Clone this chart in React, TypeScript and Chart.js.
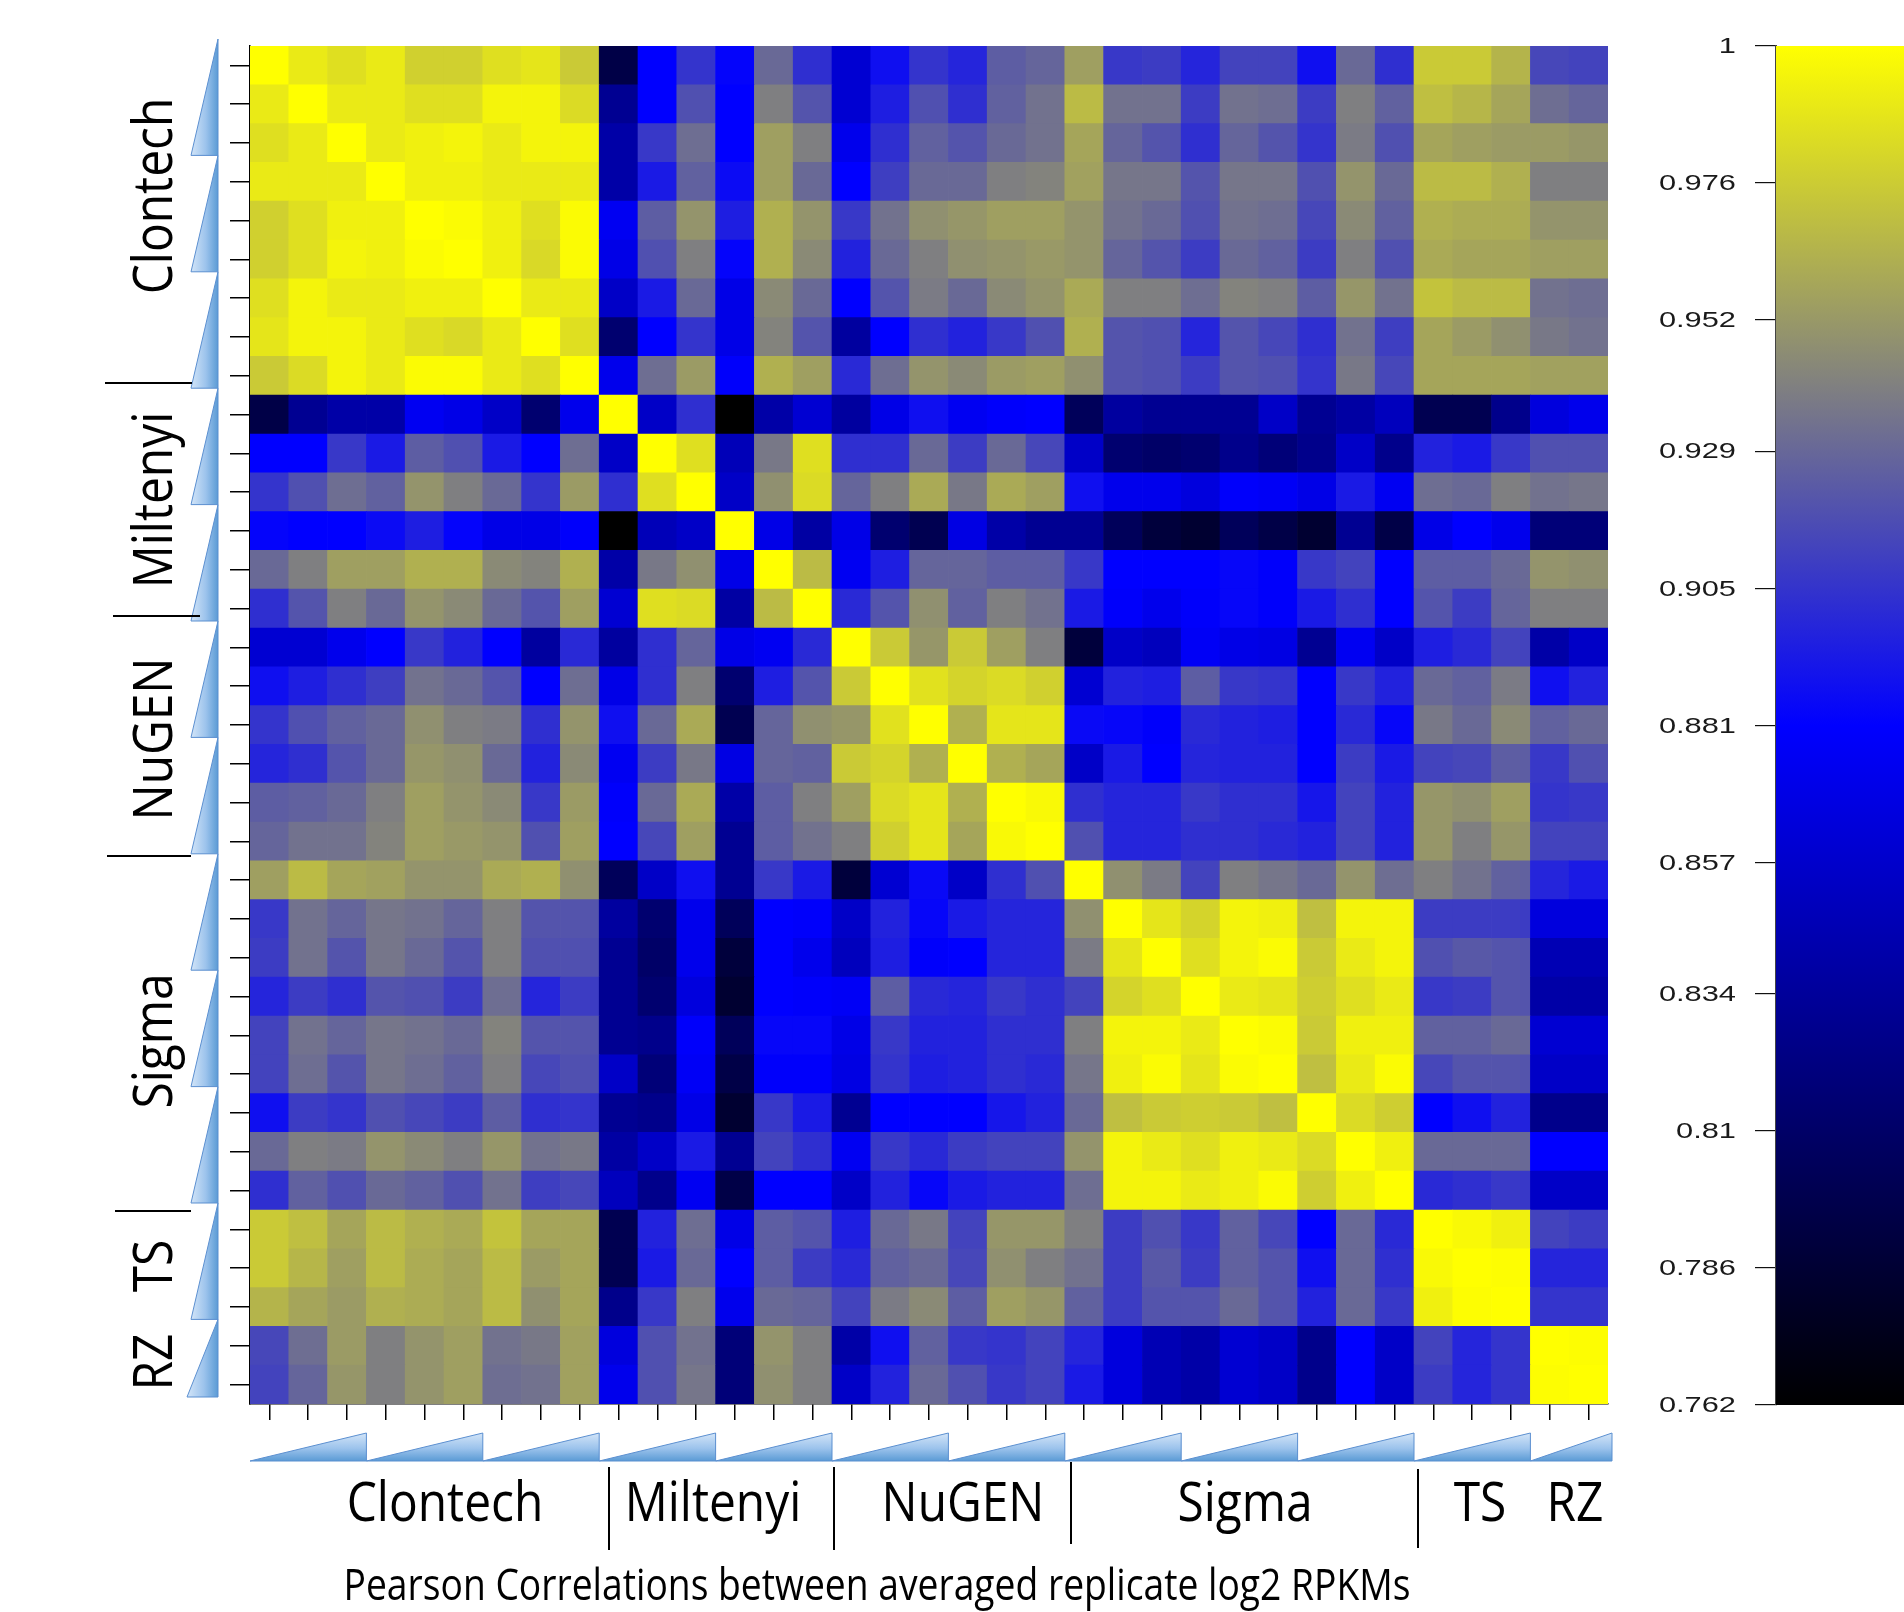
import React, { useEffect, useRef } from 'react';
import { Chart, registerables } from 'chart.js';

Chart.register(...registerables);

// ---------------- DATA ----------------
const GROUP_NAMES = ['Clontech', 'Miltenyi', 'NuGEN', 'Sigma', 'TS', 'RZ'];
const GROUP_SIZES = [9, 6, 6, 9, 3, 2];
const SAMPLE_LABELS: string[] = GROUP_NAMES.flatMap((g, i) =>
  Array.from({ length: GROUP_SIZES[i] }, (_, k) => `${g} ${k + 1}`)
);

// Upper triangle of the (symmetric) Pearson correlation matrix.
// ROW_ii holds the values of row i for columns i+1 .. 34.
const ROW_00 = [0.99, 0.985, 0.99, 0.978, 0.978, 0.985, 0.988, 0.975, 0.795, 0.881, 0.905, 0.883, 0.93, 0.903, 0.86, 0.888, 0.905, 0.898, 0.924, 0.928, 0.955, 0.907, 0.909, 0.898, 0.912, 0.912, 0.888, 0.93, 0.903, 0.975, 0.975, 0.965, 0.914, 0.912];
const ROW_01 = [0.99, 0.99, 0.985, 0.985, 0.995, 0.995, 0.983, 0.83, 0.881, 0.918, 0.881, 0.94, 0.92, 0.86, 0.895, 0.918, 0.903, 0.926, 0.934, 0.968, 0.934, 0.934, 0.909, 0.934, 0.932, 0.909, 0.94, 0.926, 0.97, 0.966, 0.958, 0.932, 0.928];
const ROW_02 = [0.99, 0.993, 0.995, 0.99, 0.995, 0.995, 0.84, 0.907, 0.932, 0.881, 0.955, 0.94, 0.872, 0.903, 0.926, 0.92, 0.93, 0.934, 0.958, 0.928, 0.92, 0.903, 0.928, 0.92, 0.905, 0.938, 0.918, 0.958, 0.955, 0.953, 0.953, 0.951];
const ROW_03 = [0.993, 0.993, 0.99, 0.99, 0.99, 0.84, 0.893, 0.926, 0.886, 0.955, 0.93, 0.881, 0.91, 0.93, 0.93, 0.94, 0.942, 0.956, 0.936, 0.936, 0.92, 0.936, 0.936, 0.918, 0.95, 0.93, 0.968, 0.968, 0.963, 0.94, 0.94];
const ROW_04 = [0.998, 0.993, 0.985, 0.998, 0.875, 0.924, 0.95, 0.895, 0.963, 0.95, 0.907, 0.934, 0.948, 0.951, 0.955, 0.955, 0.95, 0.934, 0.93, 0.918, 0.934, 0.932, 0.914, 0.945, 0.926, 0.963, 0.961, 0.961, 0.95, 0.95];
const ROW_05 = [0.993, 0.982, 0.998, 0.87, 0.918, 0.94, 0.883, 0.963, 0.945, 0.897, 0.93, 0.94, 0.948, 0.95, 0.952, 0.95, 0.928, 0.92, 0.909, 0.93, 0.926, 0.909, 0.94, 0.918, 0.96, 0.958, 0.958, 0.955, 0.955];
const ROW_06 = [0.99, 0.99, 0.855, 0.893, 0.93, 0.87, 0.945, 0.93, 0.881, 0.92, 0.938, 0.93, 0.945, 0.95, 0.96, 0.94, 0.94, 0.932, 0.942, 0.94, 0.924, 0.951, 0.934, 0.972, 0.968, 0.968, 0.934, 0.932];
const ROW_07 = [0.985, 0.814, 0.881, 0.905, 0.87, 0.942, 0.92, 0.836, 0.881, 0.903, 0.897, 0.907, 0.918, 0.963, 0.92, 0.918, 0.898, 0.92, 0.914, 0.903, 0.934, 0.91, 0.958, 0.953, 0.948, 0.937, 0.934];
const ROW_08 = [0.872, 0.932, 0.953, 0.879, 0.963, 0.955, 0.9, 0.932, 0.95, 0.945, 0.953, 0.955, 0.948, 0.92, 0.918, 0.909, 0.92, 0.918, 0.905, 0.937, 0.914, 0.958, 0.958, 0.958, 0.956, 0.956];
const ROW_09 = [0.855, 0.903, 0.762, 0.84, 0.86, 0.836, 0.87, 0.888, 0.875, 0.879, 0.881, 0.804, 0.836, 0.83, 0.83, 0.83, 0.855, 0.83, 0.838, 0.85, 0.8, 0.8, 0.827, 0.865, 0.872];
const ROW_10 = [0.985, 0.848, 0.937, 0.985, 0.903, 0.903, 0.93, 0.909, 0.93, 0.914, 0.855, 0.814, 0.81, 0.814, 0.827, 0.818, 0.827, 0.855, 0.827, 0.897, 0.893, 0.907, 0.918, 0.918];
const ROW_11 = [0.855, 0.948, 0.983, 0.928, 0.94, 0.96, 0.937, 0.96, 0.955, 0.888, 0.872, 0.872, 0.865, 0.879, 0.877, 0.87, 0.893, 0.875, 0.932, 0.93, 0.94, 0.934, 0.936];
const ROW_12 = [0.87, 0.838, 0.87, 0.814, 0.8, 0.868, 0.84, 0.83, 0.83, 0.804, 0.79, 0.785, 0.804, 0.795, 0.785, 0.83, 0.795, 0.87, 0.881, 0.872, 0.818, 0.818];
const ROW_13 = [0.968, 0.875, 0.895, 0.928, 0.928, 0.924, 0.924, 0.907, 0.881, 0.881, 0.881, 0.884, 0.879, 0.907, 0.912, 0.881, 0.924, 0.924, 0.93, 0.95, 0.948];
const ROW_14 = [0.9, 0.92, 0.948, 0.926, 0.94, 0.934, 0.893, 0.879, 0.872, 0.879, 0.884, 0.879, 0.893, 0.903, 0.881, 0.92, 0.909, 0.928, 0.94, 0.94];
const ROW_15 = [0.975, 0.951, 0.975, 0.955, 0.94, 0.79, 0.855, 0.85, 0.877, 0.87, 0.868, 0.83, 0.875, 0.855, 0.895, 0.9, 0.912, 0.84, 0.855];
const ROW_16 = [0.986, 0.98, 0.983, 0.978, 0.86, 0.897, 0.895, 0.924, 0.907, 0.905, 0.881, 0.907, 0.897, 0.93, 0.926, 0.938, 0.888, 0.897];
const ROW_17 = [0.963, 0.988, 0.988, 0.885, 0.884, 0.879, 0.9, 0.897, 0.895, 0.881, 0.9, 0.884, 0.937, 0.93, 0.945, 0.926, 0.93];
const ROW_18 = [0.963, 0.958, 0.855, 0.893, 0.881, 0.898, 0.897, 0.897, 0.881, 0.909, 0.893, 0.912, 0.914, 0.924, 0.907, 0.918];
const ROW_19 = [0.997, 0.903, 0.898, 0.898, 0.907, 0.903, 0.903, 0.891, 0.912, 0.897, 0.951, 0.948, 0.955, 0.905, 0.907];
const ROW_20 = [0.918, 0.898, 0.898, 0.903, 0.903, 0.9, 0.897, 0.912, 0.897, 0.951, 0.94, 0.951, 0.912, 0.912];
const ROW_21 = [0.948, 0.938, 0.912, 0.94, 0.936, 0.93, 0.95, 0.932, 0.94, 0.934, 0.926, 0.898, 0.893];
const ROW_22 = [0.988, 0.98, 0.995, 0.993, 0.97, 0.995, 0.995, 0.909, 0.909, 0.909, 0.865, 0.865];
const ROW_23 = [0.985, 0.995, 0.998, 0.975, 0.99, 0.995, 0.918, 0.922, 0.92, 0.846, 0.846];
const ROW_24 = [0.99, 0.988, 0.977, 0.985, 0.99, 0.907, 0.909, 0.92, 0.84, 0.84];
const ROW_25 = [0.998, 0.975, 0.993, 0.993, 0.926, 0.926, 0.93, 0.86, 0.86];
const ROW_26 = [0.97, 0.99, 0.998, 0.914, 0.92, 0.92, 0.855, 0.855];
const ROW_27 = [0.983, 0.977, 0.881, 0.888, 0.897, 0.827, 0.827];
const ROW_28 = [0.993, 0.93, 0.93, 0.93, 0.881, 0.881];
const ROW_29 = [0.9, 0.903, 0.907, 0.855, 0.855];
const ROW_30 = [0.997, 0.993, 0.912, 0.909];
const ROW_31 = [0.999, 0.898, 0.898];
const ROW_32 = [0.905, 0.905];
const ROW_33 = [0.999];

const UPPER_ROWS = [
  ROW_00, ROW_01, ROW_02, ROW_03, ROW_04, ROW_05, ROW_06, ROW_07, ROW_08, ROW_09,
  ROW_10, ROW_11, ROW_12, ROW_13, ROW_14, ROW_15, ROW_16, ROW_17, ROW_18, ROW_19,
  ROW_20, ROW_21, ROW_22, ROW_23, ROW_24, ROW_25, ROW_26, ROW_27, ROW_28, ROW_29,
  ROW_30, ROW_31, ROW_32, ROW_33,
];

// Colour key
const CB_MIN = 0.762;
const CB_MAX = 1;
const CB_TICK_LABELS = ['1', '0.976', '0.952', '0.929', '0.905', '0.881', '0.857', '0.834', '0.81', '0.786', '0.762'];
const COLOR_STOP_VALUES = [0.762, 0.881, 0.9405, 1];
const COLOR_STOP_RGB = [
  [0, 0, 0],
  [0, 0, 255],
  [128, 128, 128],
  [255, 255, 0],
];

const CAPTION = 'Pearson Correlations between averaged replicate log2 RPKMs';

// ---------------- HELPERS ----------------
const N = SAMPLE_LABELS.length;

function buildMatrix(): number[][] {
  const m = Array.from({ length: N }, (_, i) => Array.from({ length: N }, (_, j) => (i === j ? 1 : 0)));
  UPPER_ROWS.forEach((row, i) => {
    row.forEach((v, k) => {
      const j = i + 1 + k;
      m[i][j] = v;
      m[j][i] = v;
    });
  });
  return m;
}

function rgb(c: number[]) {
  return `rgb(${Math.round(c[0])},${Math.round(c[1])},${Math.round(c[2])})`;
}

function colorFor(v: number): string {
  const s = COLOR_STOP_VALUES;
  let i = 0;
  while (i < s.length - 2 && v > s[i + 1]) i++;
  const t = Math.max(0, Math.min(1, (v - s[i]) / (s[i + 1] - s[i])));
  const a = COLOR_STOP_RGB[i];
  const b = COLOR_STOP_RGB[i + 1];
  return rgb([a[0] + (b[0] - a[0]) * t, a[1] + (b[1] - a[1]) * t, a[2] + (b[2] - a[2]) * t]);
}

const LABEL_FONT = '55px "Open Sans", "Noto Sans", sans-serif';
const LABEL_SX = 0.87;

function drawText(
  ctx: CanvasRenderingContext2D,
  text: string,
  x: number,
  y: number,
  font: string,
  sx: number,
  align: CanvasTextAlign,
  rotate = false,
  baseline: CanvasTextBaseline = 'alphabetic',
  color = '#000'
) {
  ctx.save();
  ctx.translate(x, y);
  if (rotate) ctx.rotate(-Math.PI / 2);
  ctx.scale(sx, 1);
  ctx.font = font;
  ctx.textAlign = align;
  ctx.textBaseline = baseline;
  ctx.fillStyle = color;
  ctx.fillText(text, 0, 0);
  ctx.restore();
}

// layout of the slide annotations (label centres, separator lines)
const LEFT_LABEL_BASELINE_X = 172;
const LEFT_LABEL_CENTERS = [196, 500, 739, 1041, 1266, 1362];
const BOTTOM_LABEL_BASELINE_Y = 1521;
const BOTTOM_LABEL_CENTERS = [445, 713, 963, 1245, 1480, 1575];
const LEFT_SEPARATORS = [
  { y: 383, x1: 105, x2: 192 },
  { y: 616, x1: 113, x2: 200 },
  { y: 856, x1: 107, x2: 191 },
  { y: 1211, x1: 115, x2: 191 },
];
const BOTTOM_SEPARATORS = [
  { x: 609, y1: 1467, y2: 1550 },
  { x: 834, y1: 1467, y2: 1550 },
  { x: 1071, y1: 1462, y2: 1544 },
  { x: 1418, y1: 1469, y2: 1548 },
];

const decorPlugin = {
  id: 'decor',
  afterDraw(chart: any) {
    const ctx: CanvasRenderingContext2D = chart.ctx;
    const area = chart.chartArea;
    const xs = chart.scales.x;
    const ys = chart.scales.y;
    const cellW = (area.right - area.left) / N;
    const nW = Math.ceil(N / 3);

    // left wedges
    for (let k = 0; k < nW; k++) {
      const r0 = 3 * k;
      const r1 = Math.min(3 * k + 3, N);
      const top = ys.getPixelForValue(N - r0) - 7;
      const bot = ys.getPixelForValue(N - r1) - 7;
      const xr = area.left - 32;
      const xl = area.left - 59 - (r1 - r0 < 3 ? 4 : 0);
      const g = ctx.createLinearGradient(xl, 0, xr, 0);
      g.addColorStop(0, '#d3e5f8');
      g.addColorStop(0.55, '#9cc3ec');
      g.addColorStop(1, '#5b9bd5');
      ctx.beginPath();
      ctx.moveTo(xr, top);
      ctx.lineTo(xr, bot);
      ctx.lineTo(xl, bot);
      ctx.closePath();
      ctx.fillStyle = g;
      ctx.fill();
      ctx.strokeStyle = '#5b8fd0';
      ctx.lineWidth = 1;
      ctx.stroke();
    }

    // bottom wedges
    const yt = area.bottom + 29;
    const yb = area.bottom + 57;
    for (let k = 0; k < nW; k++) {
      const c0 = 3 * k;
      const c1 = Math.min(3 * k + 2, N - 1);
      const x0 = xs.getPixelForValue(c0) - cellW / 2;
      const x1 = xs.getPixelForValue(c1) + cellW / 2 + (c1 - c0 < 2 ? 4 : 0);
      const g = ctx.createLinearGradient(0, yt, 0, yb);
      g.addColorStop(0, '#d3e5f8');
      g.addColorStop(0.55, '#9cc3ec');
      g.addColorStop(1, '#5b9bd5');
      ctx.beginPath();
      ctx.moveTo(x0, yb);
      ctx.lineTo(x1, yb);
      ctx.lineTo(x1, yt);
      ctx.closePath();
      ctx.fillStyle = g;
      ctx.fill();
      ctx.strokeStyle = '#5b8fd0';
      ctx.lineWidth = 1;
      ctx.stroke();
    }

    // separators
    ctx.save();
    ctx.strokeStyle = '#000';
    ctx.lineWidth = 2;
    LEFT_SEPARATORS.forEach((s) => {
      ctx.beginPath();
      ctx.moveTo(s.x1, s.y);
      ctx.lineTo(s.x2, s.y);
      ctx.stroke();
    });
    BOTTOM_SEPARATORS.forEach((s) => {
      ctx.beginPath();
      ctx.moveTo(s.x, s.y1);
      ctx.lineTo(s.x, s.y2);
      ctx.stroke();
    });
    ctx.restore();

    // group labels
    GROUP_NAMES.forEach((name, i) => {
      drawText(ctx, name, LEFT_LABEL_BASELINE_X, LEFT_LABEL_CENTERS[i], LABEL_FONT, LABEL_SX, 'center', true);
      drawText(ctx, name, BOTTOM_LABEL_CENTERS[i], BOTTOM_LABEL_BASELINE_Y, LABEL_FONT, LABEL_SX, 'center');
    });

    // caption
    const capFont = '43px "Open Sans", "Noto Sans", sans-serif';
    ctx.save();
    ctx.font = capFont;
    const w = ctx.measureText(CAPTION).width;
    ctx.restore();
    const sx = w > 0 ? 1067 / w : 1;
    drawText(ctx, CAPTION, 877, 1600, capFont, sx, 'center');
  },
};

function mainConfig(): any {
  const matrix = buildMatrix();
  const datasets = [];
  for (let k = 0; k < N; k++) {
    const row = N - 1 - k; // stacked bottom-up: last sample row first
    datasets.push({
      label: SAMPLE_LABELS[row],
      data: SAMPLE_LABELS.map(() => 1),
      backgroundColor: matrix[row].map(colorFor),
      borderWidth: 0,
      barPercentage: 1,
      categoryPercentage: 1,
      stack: 'rows',
    });
  }
  return {
    type: 'bar',
    data: { labels: SAMPLE_LABELS, datasets },
    options: {
      responsive: false,
      animation: false,
      devicePixelRatio: 1,
      events: [],
      layout: { padding: { left: 230, right: 296, top: 46, bottom: 192 } },
      plugins: { legend: { display: false }, tooltip: { enabled: false }, title: { display: false } },
      scales: {
        x: {
          type: 'category',
          stacked: true,
          offset: true,
          ticks: { display: false },
          grid: { display: true, offset: false, drawOnChartArea: false, drawTicks: true, tickLength: 16, color: '#000', lineWidth: 1.5 },
          border: { display: true, color: '#000', width: 1.5 },
          afterFit: (s: any) => {
            s.height = 16;
          },
        },
        y: {
          type: 'linear',
          stacked: true,
          min: 0,
          max: N,
          position: 'left',
          ticks: { display: false },
          afterBuildTicks: (s: any) => {
            s.ticks = SAMPLE_LABELS.map((_, i) => ({ value: i + 0.5 }));
          },
          grid: { display: true, drawOnChartArea: false, drawTicks: true, tickLength: 20, color: '#000', lineWidth: 1.5 },
          border: { display: true, color: '#000', width: 1.5 },
          afterFit: (s: any) => {
            s.width = 20;
          },
        },
      },
    },
    plugins: [decorPlugin],
  };
}

const cbLabelPlugin = {
  id: 'cbLabels',
  afterDraw(chart: any) {
    const ctx: CanvasRenderingContext2D = chart.ctx;
    const ys = chart.scales.y;
    CB_TICK_LABELS.forEach((lab) => {
      const y = ys.getPixelForValue(parseFloat(lab));
      drawText(ctx, lab, 136, y + 1, '22px "Liberation Sans", Arial, sans-serif', 1.4, 'right', false, 'middle', '#1a1a1a');
    });
  },
};

function cbConfig(): any {
  return {
    type: 'bar',
    data: {
      labels: ['key'],
      datasets: [
        {
          data: [[CB_MIN, CB_MAX]],
          borderWidth: 0,
          barPercentage: 1,
          categoryPercentage: 1,
          backgroundColor: (c: any) => {
            const ch = c.chart;
            const ys = ch.scales && ch.scales.y;
            if (!ch.chartArea || !ys) return '#000';
            const y0 = ys.getPixelForValue(CB_MIN);
            const y1 = ys.getPixelForValue(CB_MAX);
            const g = ch.ctx.createLinearGradient(0, y0, 0, y1);
            COLOR_STOP_VALUES.forEach((v, i) => g.addColorStop((v - CB_MIN) / (CB_MAX - CB_MIN), rgb(COLOR_STOP_RGB[i])));
            return g;
          },
        },
      ],
    },
    options: {
      responsive: false,
      animation: false,
      devicePixelRatio: 1,
      events: [],
      layout: { padding: { left: 0, right: 0, top: 46, bottom: 207 } },
      plugins: { legend: { display: false }, tooltip: { enabled: false } },
      scales: {
        x: { display: false, offset: true },
        y: {
          type: 'linear',
          min: CB_MIN,
          max: CB_MAX,
          position: 'left',
          ticks: { display: false },
          afterBuildTicks: (s: any) => {
            s.ticks = CB_TICK_LABELS.map((l) => ({ value: parseFloat(l) }));
          },
          grid: { display: true, drawOnChartArea: false, drawTicks: true, tickLength: 21, color: '#111', lineWidth: 1.2 },
          border: { display: true, color: '#444', width: 2 },
          afterFit: (s: any) => {
            s.width = 176;
          },
        },
      },
    },
    plugins: [cbLabelPlugin],
  };
}

export default function App() {
  const mainRef = useRef<HTMLCanvasElement>(null);
  const cbRef = useRef<HTMLCanvasElement>(null);

  useEffect(() => {
    document.body.style.margin = '0';
    document.body.style.background = '#fff';
    let alive = true;
    const main = new Chart(mainRef.current as HTMLCanvasElement, mainConfig());
    const cb = new Chart(cbRef.current as HTMLCanvasElement, cbConfig());
    const fonts: any = (document as any).fonts;
    if (fonts && fonts.ready) {
      fonts.ready.then(() => {
        if (alive) {
          main.draw();
          cb.draw();
        }
      });
    }
    return () => {
      alive = false;
      main.destroy();
      cb.destroy();
    };
  }, []);

  return (
    <div style={{ position: 'relative', width: 1904, height: 1612, background: '#fff', overflow: 'hidden' }}>
      <canvas ref={mainRef} width={1904} height={1612} style={{ position: 'absolute', left: 0, top: 0 }} />
      <canvas ref={cbRef} width={304} height={1612} style={{ position: 'absolute', left: 1600, top: 0 }} />
    </div>
  );
}
